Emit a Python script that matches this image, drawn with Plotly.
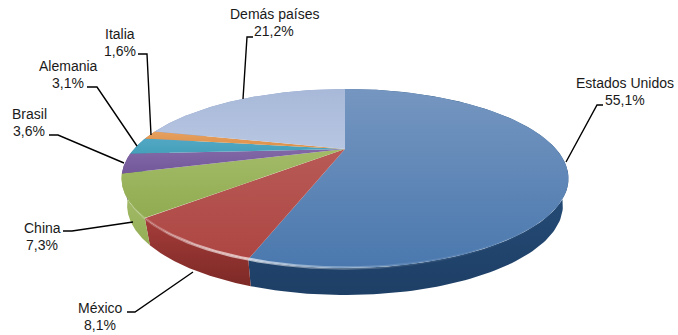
import numpy as np
import plotly.graph_objects as go

# ---- data ----
countries = ["Estados Unidos", "México", "China", "Brasil", "Alemania", "Italia", "Demás países"]
shares = [55.1, 8.1, 7.3, 3.6, 3.1, 1.6, 21.2]
share_labels = ["55,1%", "8,1%", "7,3%", "3,6%", "3,1%", "1,6%", "21,2%"]

# ---- styles ----
face_top = ["#7596c0", "#b85a56", "#a3bb68", "#8168a6", "#52a8c4", "#e6a060", "#a8b8d8"]
face_bot = ["#4a78ae", "#ad4643", "#90ab50", "#74589a", "#45a0ba", "#dd9048", "#b6c6e2"]
side_top = ["#2a5684", "#a53d3a", "#a8bf6e", "#6d5290", "#3f92aa", "#d08440", "#8fa3c8"]
side_bot = ["#1e3f66", "#7d2926", "#94ae56", "#58407a", "#2f7a90", "#b07030", "#7f93b8"]

# ---- perspective view of the disc ----
CX, CY = 345.0, 149.0
C, S, K = 211.0, 79.8, 0.3296
DROP, SHRINK = 27.0, 0.975


def rim(angle):
    u, v = np.sin(angle), np.cos(angle)
    w = 1 + K * v
    return CX + C * u / w, CY - S * v / w


fractions = np.array(shares) / np.sum(shares)
edges = np.concatenate([[0], np.cumsum(fractions)]) * 2 * np.pi

fig = go.Figure()


def poly(xs, ys, c0, c1, kind="vertical"):
    # the gradient runs from the lower edge (0) to the upper edge (1)
    stops = [[0, c1], [1, c0]] if not isinstance(c0, list) else c0
    fig.add_trace(go.Scatter(
        x=xs, y=ys, mode="lines", fill="toself", line=dict(width=0),
        fillgradient=dict(type=kind, colorscale=stops), hoverinfo="skip", showlegend=False))


# walls first, so the top faces cover their hidden parts
for i in range(len(shares)):
    a = np.linspace(edges[i], edges[i + 1], 160)
    x, y = rim(a)
    xb = CX + (x - CX) * SHRINK
    poly(np.r_[x, xb[::-1]], np.r_[y, (y + DROP)[::-1]], side_top[i], side_bot[i])

# top faces
for i in range(len(shares)):
    a = np.linspace(edges[i], edges[i + 1], 160)
    x, y = rim(a)
    poly(np.r_[CX, x, CX], np.r_[CY, y, CY], face_top[i], face_bot[i])

# bevel highlight along the front of the rim
a = np.linspace(np.radians(125), np.radians(250), 300)
x, y = rim(a)
glow = [[0, "rgba(255,255,255,0)"], [0.1, "rgba(255,255,255,0.3)"], [0.2, "rgba(255,255,255,0.6)"],
        [0.3, "rgba(255,255,255,0.65)"], [0.45, "rgba(255,255,255,0.35)"], [0.65, "rgba(255,255,255,0.1)"],
        [1, "rgba(255,255,255,0)"]]
poly(np.r_[x, x[::-1]], np.r_[y - 1.6, (y + 1.6)[::-1]], glow, None, "horizontal")

# ---- labels and leader lines ----
label_pos = [(625, 91), (100, 316), (42, 236), (29, 122), (68, 74), (120, 42), (274, 22)]
leaders = [
    [(566, 162), (597, 105), (603, 105)],
    [(193, 272), (135, 312), (127, 312)],
    [(133, 222), (72, 231), (63, 231)],
    [(124, 163), (58, 135), (49, 135)],
    [(137, 146), (97, 87), (87, 87)],
    [(151, 135), (147, 54), (138, 54)],
    [(243, 99), (247, 37), (253, 37)],
]
for path in leaders:
    xs, ys = zip(*path)
    fig.add_trace(go.Scatter(x=xs, y=ys, mode="lines", line=dict(color="#000000", width=1.4),
                             hoverinfo="skip", showlegend=False))

font = dict(family="Liberation Sans, Arial, sans-serif", size=14, color="#1a1a1a")
for name, pct, (lx, ly) in zip(countries, share_labels, label_pos):
    fig.add_annotation(x=lx, y=ly - 8, text=name, showarrow=False, xanchor="center", yanchor="middle", font=font)
    fig.add_annotation(x=lx, y=ly + 8.5, text=pct, showarrow=False, xanchor="center", yanchor="middle", font=font)

fig.update_layout(
    width=678, height=335, margin=dict(l=0, r=0, t=0, b=0),
    paper_bgcolor="white", plot_bgcolor="white", showlegend=False,
    xaxis=dict(range=[0, 678], visible=False, fixedrange=True),
    yaxis=dict(range=[335, 0], visible=False, fixedrange=True),
)
fig.write_html("out.html", config={"displayModeBar": False},
               post_script="document.body.style.margin='0';document.body.style.overflow='hidden';")
